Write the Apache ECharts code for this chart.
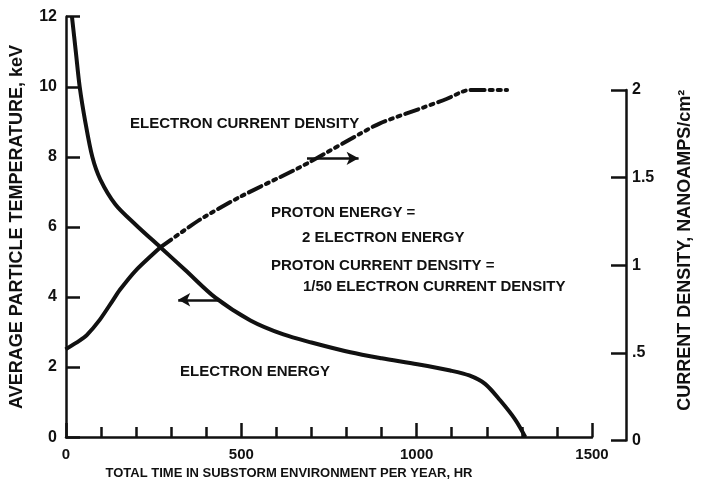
<!DOCTYPE html>
<html>
<head>
<meta charset="utf-8">
<script src="https://cdn.jsdelivr.net/npm/echarts@6/dist/echarts.min.js"></script>
<style>
  html, body { margin: 0; padding: 0; background: #fff; }
  #chart { width: 708px; height: 485px; }
</style>
</head>
<body>
<div id="chart"></div>
<script>
// 电子能量 (左轴, keV)  [小时, keV]
const electronEnergy = [
  [17, 12.0], [28, 11.0], [39, 10.0], [55, 9.0], [75, 8.0], [98, 7.35], [141, 6.64], [198, 6.07],
  [269, 5.42], [340, 4.77], [426, 3.98], [526, 3.33], [620, 2.93], [700, 2.70],
  [811, 2.42], [900, 2.25], [1002, 2.08], [1096, 1.90], [1150, 1.76], [1195, 1.52],
  [1238, 1.05], [1281, 0.5], [1310, 0]
]
// 电子电流密度 (右轴, nA/cm²)
const currentDensity = [
  [0, 0.52], [40, 0.57], [60, 0.60], [98, 0.69], [135, 0.80], [155, 0.86],
  [200, 0.97], [269, 1.10], [383, 1.26], [497, 1.39], [649, 1.54],
  [697, 1.59], [839, 1.75], [896, 1.81], [1019, 1.90], [1087, 1.95],
  [1130, 1.99], [1150, 2.0], [1258, 2.0]
]
// 实线段和点划线段的分界点
const solidEnd = 7
const xTicks = [0, 500, 1000, 1500]
const leftTicks = [0, 2, 4, 6, 8, 10, 12]
const rightTicks = ['0', '.5', '1', '1.5', '2']

const font = 'Liberation Sans Narrow, Arial Narrow, sans-serif'
const ink = '#111'

const chart = echarts.init(document.getElementById('chart'))

const option = {
  backgroundColor: '#fff',
  animation: false,
  textStyle: { fontFamily: font, fontWeight: 'bold', color: ink },
  grid: [
    { left: 65.5, right: 116, top: 16.7, bottom: 44.5 },
    { left: 65.5, right: 116, top: 90, bottom: 44.5 }
  ],
  xAxis: [{
    type: 'value', gridIndex: 0,
    min: xTicks[0], max: xTicks[xTicks.length - 1], interval: 500,
    name: 'TOTAL TIME IN SUBSTORM ENVIRONMENT PER YEAR, HR',
    nameLocation: 'middle', nameGap: 29,
    nameTextStyle: { fontFamily: font, fontWeight: 'bold', fontSize: 13, color: ink, padding: [0, 80, 0, 0] },
    axisLine: { lineStyle: { color: ink, width: 2.5 } },
    axisTick: { inside: true, length: 14, lineStyle: { color: ink, width: 2.5 } },
    minorTick: { show: true, splitNumber: 5, length: 10, lineStyle: { color: ink, width: 2.5 } },
    axisLabel: { fontFamily: font, fontWeight: 'bold', fontSize: 15, color: ink, margin: 10, formatter: (v) => String(v) },
    splitLine: { show: false }
  }, {
    type: 'value', gridIndex: 1, show: false,
    min: xTicks[0], max: xTicks[xTicks.length - 1]
  }],
  yAxis: [{
    type: 'value', gridIndex: 0,
    min: leftTicks[0], max: leftTicks[leftTicks.length - 1], interval: 2,
    name: 'AVERAGE PARTICLE TEMPERATURE, keV',
    nameLocation: 'middle', nameGap: 40, nameRotate: 90,
    nameTextStyle: { fontFamily: font, fontWeight: 'bold', fontSize: 18, color: ink },
    axisLine: { show: true, onZero: false, lineStyle: { color: ink, width: 2.5 } },
    axisTick: { show: true, inside: true, length: 14, lineStyle: { color: ink, width: 2.5 } },
    axisLabel: { fontFamily: font, fontWeight: 'bold', fontSize: 16, color: ink, margin: 9 },
    splitLine: { show: false }
  }, {
    type: 'value', gridIndex: 1, position: 'right', offset: 34,
    min: 0, max: 2, interval: 0.5,
    name: 'CURRENT DENSITY, NANOAMPS/cm²',
    nameLocation: 'middle', nameGap: 50, nameRotate: 90,
    nameTextStyle: { fontFamily: font, fontWeight: 'bold', fontSize: 18, color: ink, padding: [0, 0, 0, 30] },
    axisLine: { show: true, onZero: false, lineStyle: { color: ink, width: 2.5 } },
    axisTick: { show: true, inside: true, length: 15, lineStyle: { color: ink, width: 2.5 } },
    axisLabel: {
      fontFamily: font, fontWeight: 'bold', fontSize: 16, color: ink, margin: 6,
      formatter: (v) => rightTicks[Math.round(v * 2)]
    },
    splitLine: { show: false }
  }],
  series: [{
    name: 'ELECTRON ENERGY', type: 'line',
    xAxisIndex: 0, yAxisIndex: 0,
    data: electronEnergy, smooth: 0.3, symbol: 'none',
    lineStyle: { color: ink, width: 4 },
    markLine: {
      silent: true, symbol: ['arrow', 'none'], symbolSize: [10, 12],
      label: { show: false },
      lineStyle: { color: ink, width: 2.5, type: 'solid' },
      data: [[{ coord: [320, 3.92] }, { coord: [434, 3.92] }]]
    }
  }, {
    name: 'ELECTRON CURRENT DENSITY', type: 'line',
    xAxisIndex: 1, yAxisIndex: 1,
    data: currentDensity.slice(0, solidEnd + 1), smooth: 0.25, symbol: 'none',
    lineStyle: { color: ink, width: 4 }
  }, {
    name: 'ELECTRON CURRENT DENSITY', type: 'line',
    xAxisIndex: 1, yAxisIndex: 1,
    data: currentDensity.slice(solidEnd), smooth: 0.25, symbol: 'none',
    lineStyle: { color: ink, width: 4, type: [14, 5, 3, 5, 3, 5], cap: 'round' },
    markLine: {
      silent: true, symbol: ['none', 'arrow'], symbolSize: [10, 12],
      label: { show: false },
      lineStyle: { color: ink, width: 2.5, type: 'solid' },
      data: [[{ coord: [688, 1.61] }, { coord: [835, 1.61] }]]
    }
  }],
  graphic: [
    { type: 'text', left: 130, top: 116, style: { text: 'ELECTRON CURRENT DENSITY', font: 'bold 15px ' + font, fill: ink } },
    { type: 'text', left: 271, top: 205, style: { text: 'PROTON ENERGY =', font: 'bold 15px ' + font, fill: ink } },
    { type: 'text', left: 302, top: 230, style: { text: '2 ELECTRON ENERGY', font: 'bold 15px ' + font, fill: ink } },
    { type: 'text', left: 271, top: 258, style: { text: 'PROTON CURRENT DENSITY =', font: 'bold 15px ' + font, fill: ink } },
    { type: 'text', left: 303, top: 279, style: { text: '1/50 ELECTRON CURRENT DENSITY', font: 'bold 15px ' + font, fill: ink } },
    { type: 'text', left: 180, top: 364, style: { text: 'ELECTRON ENERGY', font: 'bold 15px ' + font, fill: ink } }
  ]
}

chart.setOption(option)
</script>
</body>
</html>
